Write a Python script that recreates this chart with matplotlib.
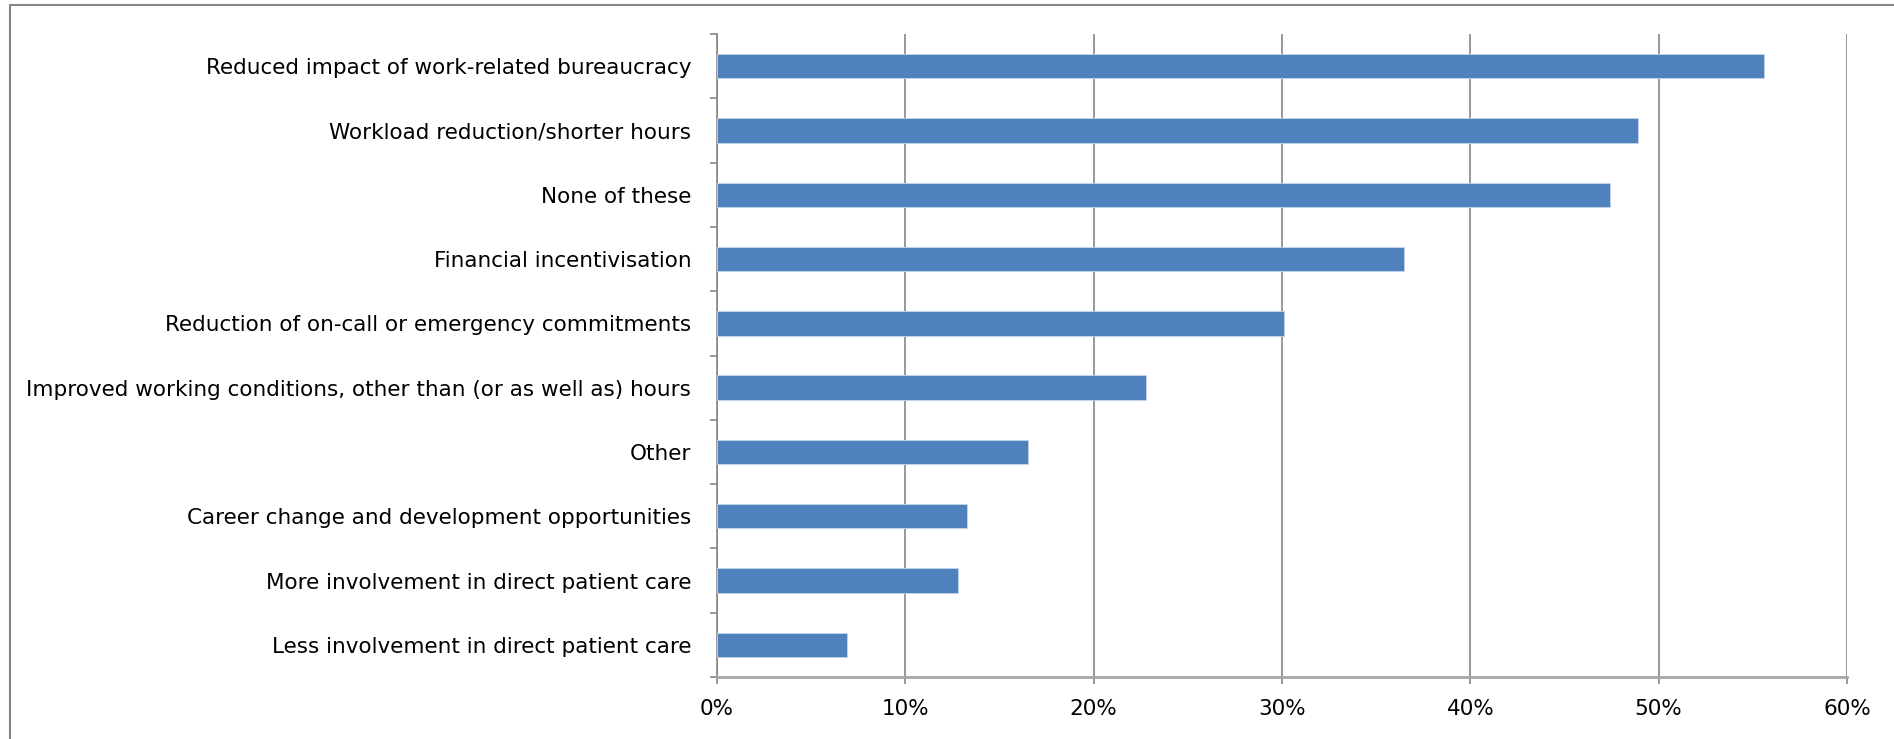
import numpy as np
import matplotlib
matplotlib.use("Agg")
import matplotlib.pyplot as plt
from matplotlib import font_manager
from matplotlib.patches import Rectangle
from matplotlib.ticker import MultipleLocator, FuncFormatter

# a narrow face is closer to the original; fall back to plain DejaVu Sans
names = {f.name for f in font_manager.fontManager.ttflist}
if 'DejaVu Sans Condensed' in names:
    plt.rcParams['font.family'] = ['DejaVu Sans Condensed', 'DejaVu Sans']
    fsize = 17
else:
    plt.rcParams['font.family'] = ['DejaVu Sans']
    fsize = 15.5

# categories, top to bottom as shown
categories = [
    "Reduced impact of work-related bureaucracy",
    "Workload reduction/shorter hours",
    "None of these",
    "Financial incentivisation",
    "Reduction of on-call or emergency commitments",
    "Improved working conditions, other than (or as well as) hours",
    "Other",
    "Career change and development opportunities",
    "More involvement in direct patient care",
    "Less involvement in direct patient care",
]
values = [55.6, 48.9, 47.4, 36.5, 30.1, 22.8, 16.5, 13.3, 12.8, 6.9]

grey = '#868686'
fig = plt.figure(figsize=(18.94, 7.39), dpi=100)
ax = fig.add_axes([717 / 1894, 1 - 677 / 739, 1130 / 1894, 643 / 739])

# outer chart frame (right and bottom edges fall outside the picture)
fig.patches.append(Rectangle((10 / 1894, -0.05), 1.0, 1.05 - 5 / 739,
                             transform=fig.transFigure, fill=False,
                             edgecolor=grey, linewidth=1.5))

y = np.arange(len(categories))[::-1]
ax.barh(y, values, height=0.38, color='#4F81BD', edgecolor='#c5d4ea',
        linewidth=0.6, zorder=3)

ax.set_xlim(0, 60)
ax.set_ylim(-0.5, len(categories) - 0.5)
ax.xaxis.set_major_locator(MultipleLocator(10))
ax.xaxis.set_major_formatter(FuncFormatter(lambda v, p: f"{v:.0f}%"))
ax.grid(axis='x', color=grey, linewidth=1.2, zorder=0)

ax.set_yticks(y)
ax.set_yticklabels(categories)
ax.set_yticks(np.arange(-0.5, len(categories)), minor=True)
ax.tick_params(axis='y', which='major', length=0, pad=18.5, labelsize=fsize)
ax.tick_params(axis='y', which='minor', length=5, color=grey, width=1.2)
ax.tick_params(axis='x', length=5, color=grey, width=1.2, pad=11, labelsize=fsize)

for s in ['top', 'right']:
    ax.spines[s].set_visible(False)
ax.spines['left'].set_color(grey)
ax.spines['left'].set_linewidth(1.2)
ax.spines['bottom'].set_color('#a6a6a6')
ax.spines['bottom'].set_linewidth(2)

fig.savefig('out.png', dpi=100)
